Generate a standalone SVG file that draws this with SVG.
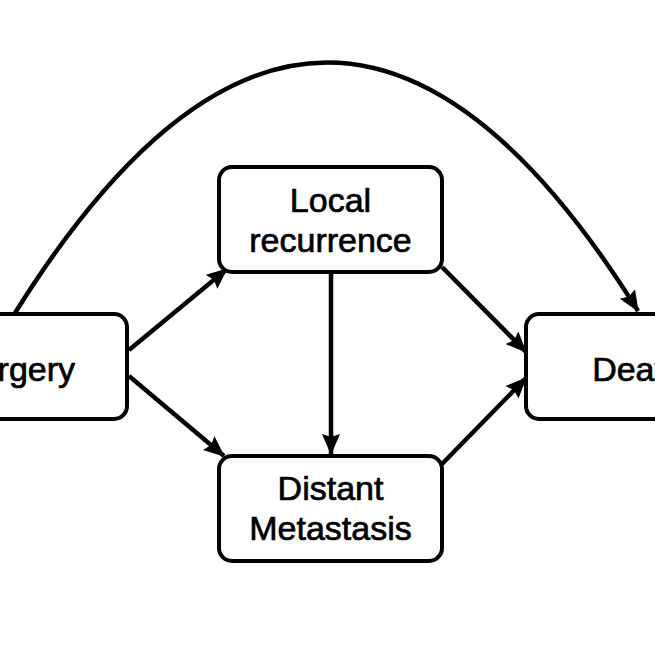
<svg xmlns="http://www.w3.org/2000/svg" width="655" height="655" viewBox="0 0 655 655">
<style>
.box{fill:#fff;stroke:#000;stroke-width:4}
.lbl{font-family:"Liberation Sans",Arial,Helvetica,sans-serif;font-size:34px;fill:#000;stroke:#000;stroke-width:0.7;text-anchor:middle}
.edge{fill:none;stroke:#000;stroke-width:4.5}
</style>
<defs>
<marker id="arr" markerUnits="userSpaceOnUse" markerWidth="24" markerHeight="20" refX="20" refY="9" orient="auto">
<path d="M0,0 L21,9 L0,18 L3,9 Z" fill="#000"/>
</marker>
</defs>
<rect width="655" height="655" fill="#fff"/>
<g id="connectors">
<path class="edge" d="M15,313 Q327,-187 638,311" marker-end="url(#arr)"/>
<line class="edge" x1="129" y1="350" x2="227" y2="269" marker-end="url(#arr)"/>
<line class="edge" x1="129" y1="376" x2="224" y2="456" marker-end="url(#arr)"/>
<line class="edge" x1="331" y1="273" x2="331" y2="454" marker-end="url(#arr)"/>
<line class="edge" x1="442" y1="267" x2="526" y2="352" marker-end="url(#arr)"/>
<line class="edge" x1="442" y1="464" x2="526" y2="378" marker-end="url(#arr)"/>
</g>
<g id="surgery">
<rect class="box" x="-96" y="314" width="223" height="105" rx="13"/>
<text class="lbl" x="15.5" y="381">Surgery</text>
</g>
<g id="local">
<rect class="box" x="219" y="167" width="223" height="105" rx="13"/>
<text class="lbl" x="330.5" y="212">Local</text>
<text class="lbl" x="330.5" y="252">recurrence</text>
</g>
<g id="distant">
<rect class="box" x="219" y="456" width="223" height="105" rx="13"/>
<text class="lbl" x="330.5" y="500">Distant</text>
<text class="lbl" x="330.5" y="540">Metastasis</text>
</g>
<g id="death">
<rect class="box" x="526" y="314" width="223" height="105" rx="13"/>
<text class="lbl" x="637.5" y="381">Death</text>
</g>
</svg>
